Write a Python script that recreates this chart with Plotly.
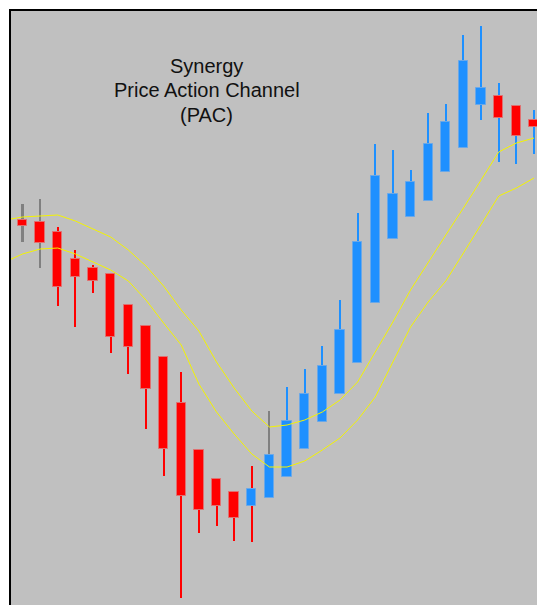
import plotly.graph_objects as go

# candle index
idx = list(range(1, 31))
open_ = [385, 383, 373, 346, 337, 331, 300, 279, 248, 202, 155, 126, 113, 99, 107,
         128, 156, 183, 211, 242, 302, 366, 388, 404, 433, 457, 500, 509, 499, 485]
high = [401, 406, 378, 355, 340, 331, 300, 279, 248, 233, 155, 126, 113, 139, 194,
        218, 236, 259, 305, 392, 461, 455, 435, 492, 501, 570, 579, 522, 499, 495]
low = [363, 337, 299, 278, 312, 252, 231, 176, 129, 7, 72, 79, 64, 63, 107,
       128, 156, 183, 211, 242, 302, 366, 388, 404, 433, 457, 485, 443, 441, 451]
close = [379, 362, 318, 328, 324, 268, 258, 216, 156, 109, 95, 99, 87, 116, 150,
         184, 211, 239, 275, 363, 429, 411, 423, 461, 483, 544, 517, 487, 469, 478]
# wick colour codes: 'g' = gray, 'r' = red, 'b' = blue
wick_code = ['g', 'g', 'r', 'r', 'r', 'r', 'r', 'r', 'r', 'r', 'r', 'r', 'r', 'r', 'g',
             'b', 'b', 'b', 'b', 'b', 'b', 'b', 'b', 'b', 'b', 'b', 'b', 'b', 'b', 'b']

# Price Action Channel lines (index 0..30)
pac_idx = list(range(0, 31))
pac_high = [385, 388, 389, 390, 384, 376, 368, 355, 339, 319, 295, 274, 243, 217, 194, 178,
            180, 185, 193, 205, 223, 253, 283, 315, 343, 370, 397, 425, 453, 462, 467]
pac_low = [343, 351, 356, 357, 351, 343, 335, 324, 305, 282, 260, 221, 193, 171, 151, 138,
           138, 144, 155, 167, 185, 208, 243, 278, 303, 324, 352, 380, 409, 417, 427]

title_lines = ["Synergy", "Price Action Channel", "(PAC)"]

RED = "#ff0000"
BLUE = "#1e90ff"
GRAY = "#808080"
cmap = {'g': GRAY, 'r': RED, 'b': BLUE}

body_base = [min(o, c) for o, c in zip(open_, close)]
body_h = [abs(c - o) for o, c in zip(open_, close)]
body_col = [BLUE if c > o else RED for o, c in zip(open_, close)]
body_line = ["#6aa8e8" if c > o else "#e07070" for o, c in zip(open_, close)]
wick_base = low
wick_h = [h - l for h, l in zip(high, low)]
wick_col = [cmap[w] for w in wick_code]

fig = go.Figure()
fig.add_trace(go.Bar(x=idx, y=wick_h, base=wick_base, width=0.115,
                     marker=dict(color=wick_col, line=dict(width=0)),
                     showlegend=False, hoverinfo="skip"))
fig.add_trace(go.Scatter(x=pac_idx, y=pac_high, mode="lines",
                         line=dict(color="#f4f400", width=1), showlegend=False))
fig.add_trace(go.Scatter(x=pac_idx, y=pac_low, mode="lines",
                         line=dict(color="#f4f400", width=1), showlegend=False))
fig.add_trace(go.Bar(x=idx, y=body_h, base=body_base, width=0.53,
                     marker=dict(color=body_col, line=dict(color=body_line, width=1)),
                     showlegend=False))

ys = [539, 515, 490]
for t, yv in zip(title_lines, ys):
    fig.add_annotation(x=11.46, y=yv, xref="x", yref="y", text=t, showarrow=False,
                       font=dict(family="Liberation Sans, Arial", size=20, color="#111111"),
                       xanchor="center", yanchor="middle")

fig.update_layout(
    width=537, height=605,
    margin=dict(l=11, r=0, t=11, b=0),
    paper_bgcolor="white", plot_bgcolor="#c0c0c0",
    barmode="overlay", bargap=0,
)
fig.update_xaxes(range=[0.348, 30.17], showgrid=False, zeroline=False, showticklabels=False,
                 ticks="", side="top", showline=True, linecolor="black", linewidth=2)
fig.update_yaxes(range=[0, 594], showgrid=False, zeroline=False, showticklabels=False,
                 ticks="", showline=True, linecolor="black", linewidth=2)

fig.write_html("out.html", config={"displayModeBar": False},
               post_script="document.body.style.margin='0';document.body.style.overflow='hidden';")
